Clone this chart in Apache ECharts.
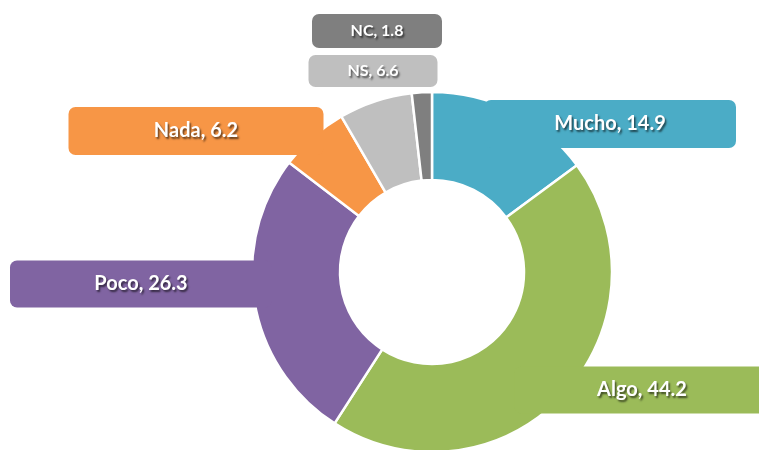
<!DOCTYPE html>
<html>
<head>
<meta charset="utf-8">
<script src="https://cdn.jsdelivr.net/npm/echarts@6/dist/echarts.min.js"></script>
<style>
  html, body { margin: 0; padding: 0; background: #ffffff; }
  #chart { width: 759px; height: 450px; }
</style>
</head>
<body>
<div id="chart"></div>
<script>
// Answer categories and their shares (%)
const categories = ['Mucho', 'Algo', 'Poco', 'Nada', 'NS', 'NC'];
const shares = [14.9, 44.2, 26.3, 6.2, 6.6, 1.8];
const colors = ['#4bacc6', '#9bbb59', '#8064a2', '#f79646', '#bfbfbf', '#7f7f7f'];

// Label box placement (centre of each box) and box sizes [width, height, fontSize]
const labelCentres = [[610, 124], [642, 390], [141, 284], [196, 131], [373, 71], [377, 31]];
const labelBoxes = [[252, 48, 20], [255, 47, 20], [262, 47, 20], [255, 48, 20], [129, 32, 16], [130, 34, 16]];

const chart = echarts.init(document.getElementById('chart'), null, { renderer: 'canvas' });

const data = categories.map((name, i) => {
  const box = labelBoxes[i];
  return {
    name: name,
    value: shares[i],
    itemStyle: { color: colors[i] },
    label: {
      backgroundColor: colors[i],
      width: box[0],
      height: box[1],
      lineHeight: box[1],
      fontSize: box[2]
    }
  };
});

chart.setOption({
  animation: false,
  series: [{
    type: 'pie',
    center: [432, 272],
    radius: [92, 180],
    startAngle: 90,
    clockwise: true,
    itemStyle: { borderColor: '#ffffff', borderWidth: 2.5 },
    label: {
      show: true,
      formatter: '{b}, {c}',
      color: '#ffffff',
      fontFamily: 'Lato',
      fontWeight: 'bold',
      align: 'center',
      verticalAlign: 'middle',
      borderRadius: 7,
      padding: 0,
      textShadowColor: 'rgba(0,0,0,0.6)',
      textShadowBlur: 2,
      textShadowOffsetX: 1.5,
      textShadowOffsetY: 1.5
    },
    labelLine: { show: false },
    labelLayout: function (params) {
      const c = labelCentres[params.dataIndex];
      return { x: c[0], y: c[1], align: 'center', verticalAlign: 'middle' };
    },
    emphasis: { disabled: true },
    data: data
  }]
});
</script>
</body>
</html>
